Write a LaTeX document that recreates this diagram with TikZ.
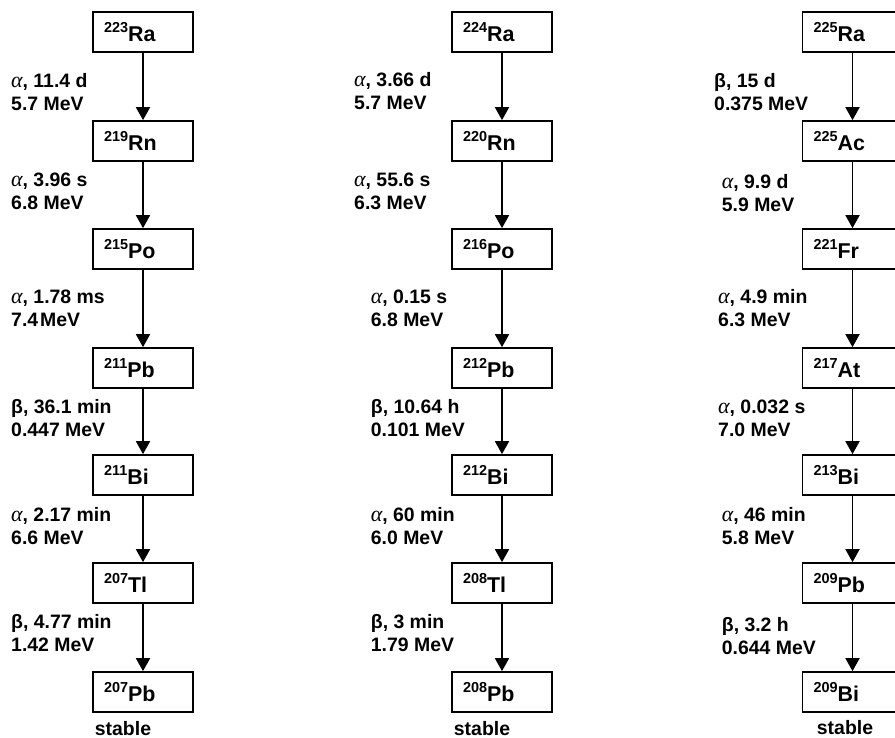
\documentclass[tikz,border=0pt]{standalone}
\usepackage{fontspec}
\setmainfont{Liberation Sans}
\newfontfamily\grkfont{Liberation Serif}
\usetikzlibrary{arrows.meta}
\newcommand\mkiso[2]{\raisebox{9.5bp}{\fontsize{14.5}{14.5}\selectfont #1}#2}
\newcommand\myalpha{{\grkfont\mdseries\itshape\fontsize{22}{22}\selectfont α}}
\begin{document}
\begin{tikzpicture}[x=1bp,y=-1bp,
  nuc/.style={draw, line width=1.7bp, minimum width=100bp, minimum height=40bp,
    inner xsep=11bp, inner ysep=0pt, text width=78bp, align=left,
    font=\bfseries\fontsize{21.5}{22}\selectfont},
  lbl/.style={anchor=west, align=left, inner sep=0pt,
    font=\bfseries\fontsize{19.5}{23}\selectfont},
  decay/.style={-{Triangle[width=14bp,length=13bp]}, line width=1.8bp},
  stab/.style={inner sep=0pt, font=\bfseries\fontsize{19.5}{20}\selectfont}]
\useasboundingbox (0,0) rectangle (895,738);

% column 1
\node[nuc] (a1) at (143,32)  {\mkiso{223}{Ra}};
\node[nuc] (a2) at (143,141) {\mkiso{219}{Rn}};
\node[nuc] (a3) at (143,249) {\mkiso{215}{Po}};
\node[nuc] (a4) at (143,368) {\mkiso{211}{Pb}};
\node[nuc] (a5) at (143,475) {\mkiso{211}{Bi}};
\node[nuc] (a6) at (143,583) {\mkiso{207}{Tl}};
\node[nuc] (a7) at (143,692) {\mkiso{207}{Pb}};
\node[stab] (as) at (123,728.5) {stable};
\foreach \i/\j in {1/2,2/3,3/4,4/5,5/6,6/7} \draw[decay] (a\i) -- (a\j);
\node[lbl] (la1) at (11,92.5)  {\myalpha, 11.4 d\\5.7 MeV};
\node[lbl] (la2) at (11,191.5) {\myalpha, 3.96 s\\6.8 MeV};
\node[lbl] (la3) at (11,308.5) {\myalpha, 1.78 ms\\7.4\hspace{2bp}MeV};
\node[lbl] (la4) at (11,418.5) {β, 36.1 min\\0.447 MeV};
\node[lbl] (la5) at (11,526.5) {\myalpha, 2.17 min\\6.6 MeV};
\node[lbl] (la6) at (11,633.5) {β, 4.77 min\\1.42 MeV};

% column 2
\node[nuc] (b1) at (502,32)  {\mkiso{224}{Ra}};
\node[nuc] (b2) at (502,141) {\mkiso{220}{Rn}};
\node[nuc] (b3) at (502,249) {\mkiso{216}{Po}};
\node[nuc] (b4) at (502,368) {\mkiso{212}{Pb}};
\node[nuc] (b5) at (502,475) {\mkiso{212}{Bi}};
\node[nuc] (b6) at (502,583) {\mkiso{208}{Tl}};
\node[nuc] (b7) at (502,692) {\mkiso{208}{Pb}};
\node[stab] (bs) at (482,728.5) {stable};
\foreach \i/\j in {1/2,2/3,3/4,4/5,5/6,6/7} \draw[decay] (b\i) -- (b\j);
\node[lbl] (lb1) at (354,91.5)   {\myalpha, 3.66 d\\5.7 MeV};
\node[lbl] (lb2) at (354,191.5)  {\myalpha, 55.6 s\\6.3 MeV};
\node[lbl] (lb3) at (370.7,308.5) {\myalpha, 0.15 s\\6.8 MeV};
\node[lbl] (lb4) at (370.7,418.5) {β, 10.64 h\\0.101 MeV};
\node[lbl] (lb5) at (370.7,526.5) {\myalpha, 60 min\\6.0 MeV};
\node[lbl] (lb6) at (370.7,633.5) {β, 3 min\\1.79 MeV};

% column 3
\node[nuc] (c1) at (852.5,32)  {\mkiso{225}{Ra}};
\node[nuc] (c2) at (852.5,141) {\mkiso{225}{Ac}};
\node[nuc] (c3) at (852.5,249) {\mkiso{221}{Fr}};
\node[nuc] (c4) at (852.5,368) {\mkiso{217}{At}};
\node[nuc] (c5) at (852.5,475) {\mkiso{213}{Bi}};
\node[nuc] (c6) at (852.5,583) {\mkiso{209}{Pb}};
\node[nuc] (c7) at (852.5,692) {\mkiso{209}{Bi}};
\node[stab] (cs) at (845,727.5) {stable};
\foreach \i/\j in {1/2,2/3,3/4,4/5,5/6,6/7} \draw[decay] (c\i) -- (c\j);
\node[lbl] (lc1) at (714,92.5)   {β, 15 d\\0.375 MeV};
\node[lbl] (lc2) at (721.7,193.5) {\myalpha, 9.9 d\\5.9 MeV};
\node[lbl] (lc3) at (718,308.5)   {\myalpha, 4.9 min\\6.3 MeV};
\node[lbl] (lc4) at (718,418.5)   {\myalpha, 0.032 s\\7.0 MeV};
\node[lbl] (lc5) at (721.7,526.5) {\myalpha, 46 min\\5.8 MeV};
\node[lbl] (lc6) at (721.7,636.5) {β, 3.2 h\\0.644 MeV};
\end{tikzpicture}
\end{document}
